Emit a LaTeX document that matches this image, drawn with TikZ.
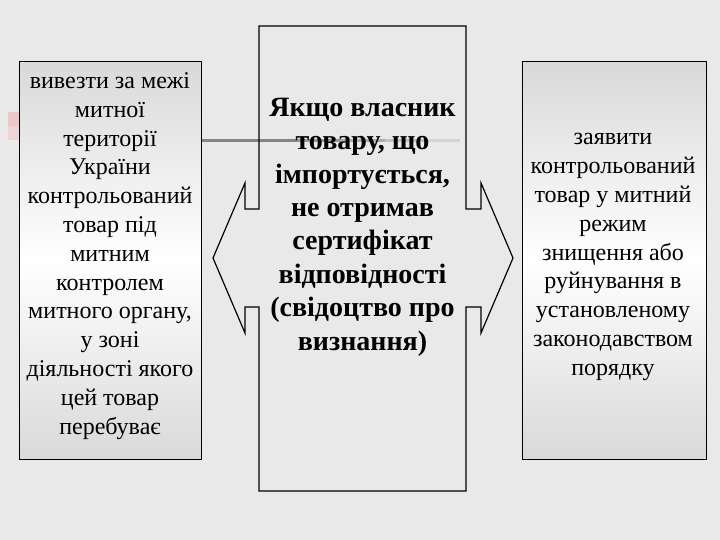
\documentclass[tikz,border=0pt]{standalone}
\usepackage{fontspec}
\setmainfont{Liberation Serif}
\definecolor{bg}{HTML}{E9E9E9}
\definecolor{boxgrey}{HTML}{D9D9D9}
\definecolor{linegrey}{HTML}{858585}
\definecolor{pinkmark}{HTML}{F2B8BC}
\begin{document}
\begin{tikzpicture}[x=1pt,y=-1pt,
  sidebox/.style={draw=black, line width=1.3pt, top color=boxgrey, bottom color=boxgrey, middle color=white, anchor=north west, inner sep=0pt},
  sidetext/.style={align=center, font=\fontsize{24}{28.8}\selectfont, inner sep=0pt},
  midtext/.style={align=center, font=\fontsize{28}{33.4}\selectfont\bfseries, inner sep=0pt},
  callout/.style={draw=black, line width=1.2pt},
  conn/.style={line width=3pt}]
\useasboundingbox (0,0) rectangle (720,540);
\fill[bg] (0,0) rectangle (720,540);
% pink decoration
\fill[pinkmark!70!bg] (8,112) rectangle (20,126);
\fill[pinkmark!40!bg] (8,126) rectangle (20,140);
% left and right boxes
\node[sidebox, minimum width=182pt, minimum height=398pt] (L) at (19,61) {};
\node[sidebox, minimum width=184pt, minimum height=398pt] (R) at (521.5,61) {};
% connector line with fade
\coordinate (c1) at (298,141);
\coordinate (c2) at (340,141);
\coordinate (c3) at (385,141);
\coordinate (c4) at (425,141);
\coordinate (lend) at (460,141);
\draw[conn, linegrey] (L.east |- c1) -- (c1);
\draw[conn, linegrey!80!bg] (c1) -- (c2);
\draw[conn, linegrey!60!bg] (c2) -- (c3);
\draw[conn, linegrey!40!bg] (c3) -- (c4);
\draw[conn, linegrey!20!bg] (c4) -- (lend);
% middle callout
\draw[callout] (259,26) -- (466,26) -- (466,209) -- (481,209) -- (481,183) -- (513,258)
  -- (481,333) -- (481,307) -- (466,307) -- (466,491) -- (259,491) -- (259,307)
  -- (245,307) -- (245,333) -- (213,258) -- (245,183) -- (245,209) -- (259,209) -- cycle;
% texts
\node[sidetext] (Lt) at (110,256) {вивезти за межі\\митної\\території\\України\\контрольований\\товар під\\митним\\контролем\\митного органу,\\у зоні\\діяльності якого\\цей товар\\перебуває};
\node[midtext] (Mt) at (362.5,227) {Якщо власник\\товару, що\\імпортується,\\не отримав\\сертифікат\\відповідності\\(свідоцтво про\\визнання)};
\node[sidetext] (Rt) at (613,257) {заявити\\контрольований\\товар у митний\\режим\\знищення або\\руйнування в\\установленому\\законодавством\\порядку};
\end{tikzpicture}
\end{document}
